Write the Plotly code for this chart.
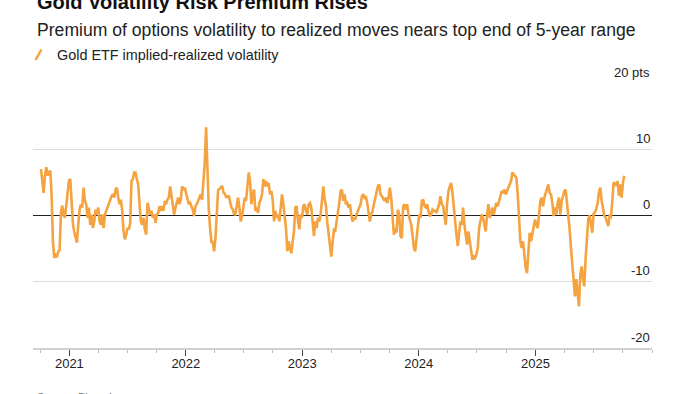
import pandas as pd
import plotly.graph_objects as go

# ---- data ----
start_date = "2020-10-04"
end_date = "2025-10-06"

seg_2020_21 = [7.0, 5.2, 3.4, 6.0, 7.3, 6.0, 6.5, 6.8, 3.0, -4.0, -6.4, -6.0, -6.3, -5.4, -5.2,
               0.5, 1.5, 0.0, -0.3, 1.3, 3.0, 5.3, 5.5, 2.0, -1.3, -2.5, -3.2, -4.1, -1.4, 0.9,
               1.7, 1.2, 4.2, 2.2, 1.7, -0.35, 1.2, -1.4, 0.15, -1.9, -0.9, 0.9, 0.15, 1.2, -0.9,
               -1.4, 0.15, -1.9, 0.15, 0.7, 1.4, 1.9, 2.4, 2.9, 3.2, 2.7, 3.9, 4.2, 2.7, 1.7,
               2.4, 0.7, -2.4, -3.6, -2.9, -1.9, -2.1, -1.1, 5.2, 5.5, 6.5]
seg_2021_22 = [6.5, 5.5, 4.7, 1.7, -0.9, -1.4, -0.35, -2.1, -2.9, 1.9, 1.2, 0.15, 0.7, -0.35, 0.15,
               -1.1, 0.15, 0.4, 1.4, 0.7, 1.4, 0.7, 2.2, 1.7, 2.4, 2.7, 4.4, 3.2, 1.7, 0.15,
               1.2, 2.2, 2.7, 1.7, 2.4, 4.4, 3.9, 4.2, 3.2, 2.2, 1.7, 1.9, 1.4, 0.9, -0.1,
               1.4, 1.7, 2.2, 2.9, 3.2, 2.4, 5.7, 8.0, 13.3, 6.5, 1.0, -2.0, -4.0, -4.0, -5.4,
               -3.5, 1.0, 3.8, 4.0, 4.3, 4.5, 3.5, 3.3, 2.8, 2.8, 3.0, 2.3, 1.2, 1.0, 0.2]
seg_2022_23 = [0.15, 1.7, 2.7, 1.2, -0.9, -0.1, 1.7, 2.7, 2.2, 4.2, 6.5, 5.2, 1.7, 3.2, 3.9,
               0.7, 1.2, 0.4, 1.9, 2.4, 3.2, 5.5, 4.4, 5.2, 4.4, 4.9, 3.2, 3.7, 2.4, -0.9,
               0.7, -0.35, 0.15, -0.9, 0.7, 3.2, 1.7, 0.15, -1.9, -5.4, -3.9, -4.9, -5.7, -3.9, -2.4,
               1.2, 1.4, -0.9, -2.1, 0.15, -0.35, 1.4, 1.7, 0.7, 0.15, 1.7, 1.9, 1.2, -1.4, -3.1,
               -0.9, -1.9, -0.35, -0.9, 0.15, 2.7, 4.4, 2.5, 1.5, -1.0, -3.0, -4.5, -6.2, -4.0, -2.2]
seg_2023_24 = [-2.3, -1.0, 1.0, 1.9, 3.7, 3.9, 2.2, 3.2, 1.7, 1.9, 1.2, 1.7, 0.15, -0.9, -0.35,
               -0.6, 0.15, 0.7, 1.2, 1.7, 2.9, 3.2, 2.7, 2.9, 1.9, 0.15, -0.9, 0.15, 0.7, 1.7,
               2.7, 3.4, 4.4, 4.7, 3.2, 2.9, 2.4, 2.2, 2.7, 1.9, 2.7, 4.2, 2.7, 0.4, -2.9,
               -1.9, -2.6, 0.9, 0.15, -3.1, -3.4, 1.4, 1.7, 0.9, 1.7, 0.15, -0.6, -1.4, -2.9, -4.9,
               -5.4, -3.4, -1.4, 0.15, -0.35, 2.2, 2.4, 1.4, 1.2, 1.7, 0.7, -0.1, 0.15, 0.9, 0.7]
seg_2024_25 = [0.7, 0.4, 0.9, 1.7, 2.9, 1.7, 1.4, -0.35, -1.4, 1.9, 3.7, 4.4, 4.9, 3.4, 0.9,
               -0.9, -2.9, -4.6, -2.4, -0.9, -1.4, 1.2, -1.4, -2.9, -4.4, -2.4, -3.9, -5.9, -6.7, -6.2,
               -6.4, -5.9, -4.9, -1.9, -0.9, 0.15, -0.35, -1.4, -2.4, 0.15, 1.7, -0.35, 0.7, 1.2, 0.15,
               0.9, 1.9, 1.4, 2.2, 3.2, 3.7, 3.4, 3.9, 3.2, 3.7, 4.2, 4.7, 5.2, 6.5, 6.2,
               6.0, 5.7, 3.2, -0.35, -3.9, -4.9, -3.9, -5.9, -7.9, -8.7, -5.9, -2.6, -3.9, -2.9, -1.9]
seg_2025 = [-0.6, -1.4, -1.9, 0.15, 2.2, 2.7, 1.4, 2.7, 3.4, 3.9, 4.7, 3.4, 3.2, 1.9, -0.1,
            1.2, 0.15, 1.9, 2.7, 0.15, 2.2, 2.9, 3.7, 3.9, 2.2, -0.35, -2.1, -4.9, -7.4, -8.9,
            -12.2, -9.6, -11.5, -13.7, -9.0, -7.7, -9.5, -10.7, -6.5, -2.5, -0.5, 0.0, -1.5, -2.6, 0.3,
            0.5, 1.0, 1.8, 3.5, 4.2, 2.3, 0.8, 0.0, -0.3, -1.0, -1.6, -0.1, -0.2, 2.0, 5.0,
            4.8, 4.5, 5.2, 3.0, 4.7, 2.7, 4.9, 6.0]

values = seg_2020_21 + seg_2021_22 + seg_2022_23 + seg_2023_24 + seg_2024_25 + seg_2025
dates = pd.date_range(start_date, end_date, periods=len(values))

year_ticks = ["2021-01-01", "2022-01-01", "2023-01-01", "2024-01-01", "2025-01-01"]
year_labels = ["2021", "2022", "2023", "2024", "2025"]
y_ticks = [20, 10, 0, -10, -20]
y_labels = ["20 pts", "10", "0", "-10", "-20"]

title = "Gold Volatility Risk Premium Rises"
subtitle = "Premium of options volatility to realized moves nears top end of 5-year range"
series_name = "Gold ETF implied-realized volatility"
source = "Source: Bloomberg"

# ---- layout helpers ----
W, H = 700, 394
L, R, T, B = 33, 652, 83, 348
FONT = "Liberation Sans, Arial, sans-serif"
ORANGE = "#F4A340"


def fx(x):
    return (x - L) / (R - L)


def fy(y):
    return (B - y) / (B - T)


fig = go.Figure()
fig.add_trace(go.Scatter(x=dates, y=values, mode="lines", name=series_name,
                         line=dict(color=ORANGE, width=2.6), showlegend=False,
                         hoverinfo="x+y"))

annotations = [
    dict(text="<b>" + title + "</b>", x=fx(35), y=fy(2), xanchor="left", yanchor="middle",
         font=dict(size=20, color="#111", family=FONT)),
    dict(text=subtitle, x=fx(35), y=fy(30), xanchor="left", yanchor="middle",
         font=dict(size=17.6, color="#222", family=FONT)),
    dict(text=series_name, x=fx(55), y=fy(55), xanchor="left", yanchor="middle",
         font=dict(size=14.4, color="#222", family=FONT)),
    dict(text=source, x=fx(35), y=fy(397), xanchor="left", yanchor="middle",
         font=dict(size=11, color="#777", family=FONT)),
]
for v, lab in zip(y_ticks, y_labels):
    annotations.append(dict(text=lab, x=1, y=(v + 20) / 40, yshift=11, xanchor="right",
                            yanchor="middle", font=dict(size=13, color="#222", family=FONT)))
for a in annotations:
    a.update(xref="paper", yref="paper", showarrow=False)

fig.update_layout(
    width=W, height=H,
    margin=dict(l=L, r=W - R, t=T, b=H - B, pad=0),
    paper_bgcolor="white", plot_bgcolor="white",
    font=dict(family=FONT, color="#222"),
    annotations=annotations,
    shapes=[dict(type="line", xref="paper", yref="paper",
                 x0=fx(35.5), y0=fy(60), x1=fx(41.5), y1=fy(49.5),
                 line=dict(color=ORANGE, width=2.5))],
    xaxis=dict(type="date", range=["2020-09-09", "2026-01-01"],
               tickvals=year_ticks, ticktext=year_labels,
               ticks="outside", ticklen=6, tickwidth=1, tickcolor="#444",
               ticklabelstandoff=-4,
               tickfont=dict(size=13, color="#222"),
               showgrid=False, zeroline=False,
               showline=True, linecolor="#d0d0d0", linewidth=2,
               minor=dict(ticks="outside", ticklen=3, tickcolor="#bbbbbb", tickwidth=1,
                          dtick="M3", tick0="2021-01-01", showgrid=False)),
    yaxis=dict(range=[-20, 20], tickvals=y_ticks, showticklabels=False,
               showgrid=True, gridcolor="#dcdcdc", gridwidth=1,
               zeroline=True, zerolinecolor="#222", zerolinewidth=1,
               showline=False, ticks=""),
)

fig.write_html("out.html", config={"displayModeBar": False},
               post_script="document.body.style.margin='0px';")
